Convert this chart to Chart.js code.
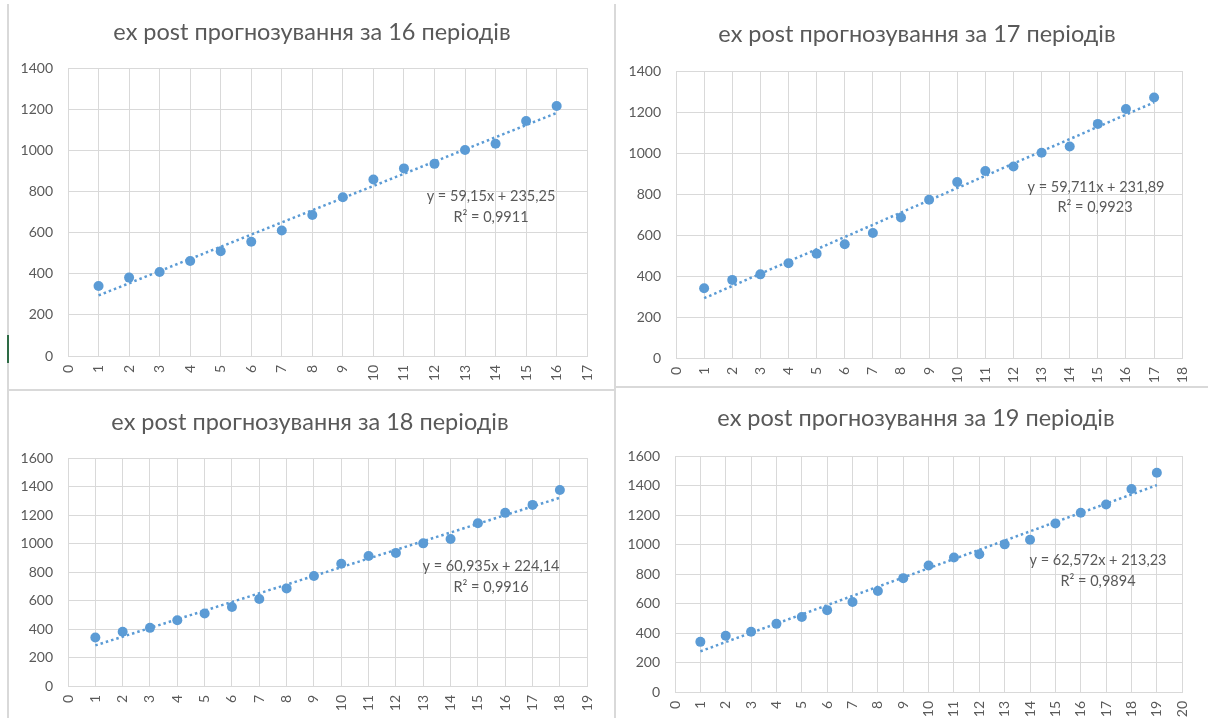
<!DOCTYPE html>
<html>
<head>
<meta charset="utf-8">
<script src="https://cdn.jsdelivr.net/npm/chart.js@4.4.1/dist/chart.umd.min.js"></script>
<style>
  html, body { margin: 0; padding: 0; background: #ffffff; }
  body { width: 1208px; height: 718px; position: relative; overflow: hidden; }
  .rule { position: absolute; background: #d9d9d9; }
  canvas { position: absolute; }
</style>
</head>
<body>
<div class="rule" style="left:7px;top:4px;width:2px;height:714px;"></div>
<div class="rule" style="left:614px;top:4px;width:2px;height:714px;"></div>
<div class="rule" style="left:7px;top:389px;width:607px;height:2px;"></div>
<div class="rule" style="left:614px;top:386px;width:594px;height:2px;"></div>
<div class="rule" style="left:7px;top:335px;width:2px;height:28px;background:#2e6b45;"></div>

<canvas id="c16" width="604" height="389" style="left:9px;top:0px;"></canvas>
<canvas id="c17" width="592" height="386" style="left:616px;top:0px;"></canvas>
<canvas id="c18" width="604" height="327" style="left:9px;top:391px;"></canvas>
<canvas id="c19" width="592" height="330" style="left:616px;top:388px;"></canvas>

<script>
// Observed values by period
const periods = [1, 2, 3, 4, 5, 6, 7, 8, 9, 10, 11, 12, 13, 14, 15, 16, 17, 18, 19];
const values  = [340, 381, 408, 462, 509, 555, 610, 685, 772, 858, 912, 934, 1001, 1032, 1142, 1215, 1271, 1376, 1486];

// One chart per forecast horizon, with its fitted linear trend
const horizons   = [16, 17, 18, 19];
const slopes     = [59.15, 59.711, 60.935, 62.572];
const intercepts = [235.25, 231.89, 224.14, 213.23];
const rSquared   = [0.9911, 0.9923, 0.9916, 0.9894];
const yMaxima    = [1400, 1400, 1600, 1600];
const yStep      = 200;

const BLUE = '#5b9bd5';
const GRID = '#d9d9d9';
const TEXT = '#595959';
const FONT = 'Lato, "Open Sans", sans-serif';

// Page geometry of each panel: canvas box, plot area, title and equation anchors
const layouts = [
  { id: 'c16', box: { left: 9,   top: 0,   width: 604, height: 389 }, plot: { left: 68,  top: 68,  right: 593,  bottom: 356 }, title: [312, 32],  eq: [491, 196],  r2: [491, 217] },
  { id: 'c17', box: { left: 616, top: 0,   width: 592, height: 386 }, plot: { left: 676, top: 71,  right: 1200, bottom: 358 }, title: [917, 34],  eq: [1096, 187], r2: [1095, 207] },
  { id: 'c18', box: { left: 9,   top: 391, width: 604, height: 327 }, plot: { left: 68,  top: 458, right: 593,  bottom: 686 }, title: [310, 422], eq: [491, 566],  r2: [491, 587] },
  { id: 'c19', box: { left: 616, top: 388, width: 592, height: 330 }, plot: { left: 675, top: 456, right: 1200, bottom: 692 }, title: [916, 418], eq: [1098, 560], r2: [1098, 581] }
];

const comma = v => String(v).replace('.', ',');

const annotate = {
  id: 'annotate',
  afterDraw(chart, args, opts) {
    const ctx = chart.ctx;
    ctx.save();
    ctx.fillStyle = TEXT;
    ctx.textAlign = 'center';
    ctx.textBaseline = 'middle';
    ctx.font = '23.5px ' + FONT;
    ctx.fillText(opts.title, opts.titlePos[0], opts.titlePos[1]);
    ctx.font = '14.5px ' + FONT;
    ctx.fillText(opts.equation, opts.eqPos[0], opts.eqPos[1]);
    ctx.fillText(opts.r2, opts.r2Pos[0], opts.r2Pos[1]);
    ctx.restore();
  }
};

horizons.forEach((n, i) => {
  const L = layouts[i];
  const ox = L.box.left, oy = L.box.top;
  const xs = periods.slice(0, n);
  const ys = values.slice(0, n);
  const points = xs.map((x, k) => ({ x: x, y: ys[k] }));
  const trend = [xs[0], xs[n - 1]].map(x => ({ x: x, y: slopes[i] * x + intercepts[i] }));

  new Chart(document.getElementById(L.id), {
    type: 'scatter',
    data: {
      datasets: [
        {
          type: 'line',
          data: trend,
          borderColor: BLUE,
          borderWidth: 2.5,
          borderDash: [2.5, 3],
          borderCapStyle: 'butt',
          pointRadius: 0,
          fill: false,
          order: 0
        },
        {
          data: points,
          backgroundColor: BLUE,
          borderColor: BLUE,
          pointRadius: 5,
          pointBorderWidth: 0,
          order: 1
        }
      ]
    },
    plugins: [annotate],
    options: {
      responsive: false,
      animation: false,
      devicePixelRatio: 1,
      layout: {
        padding: {
          left: 0,
          top: L.plot.top - oy,
          right: ox + L.box.width - L.plot.right,
          bottom: 0
        }
      },
      plugins: {
        legend: { display: false },
        tooltip: { enabled: false },
        title: { display: false },
        annotate: {
          title: 'ex post прогнозування за ' + n + ' періодів',
          titlePos: [L.title[0] - ox, L.title[1] - oy],
          equation: 'y = ' + comma(slopes[i]) + 'x + ' + comma(intercepts[i]),
          eqPos: [L.eq[0] - ox, L.eq[1] - oy],
          r2: 'R² = ' + comma(rSquared[i]),
          r2Pos: [L.r2[0] - ox, L.r2[1] - oy]
        }
      },
      scales: {
        x: {
          type: 'linear',
          min: 0,
          max: n + 1,
          afterFit: s => { s.height = oy + L.box.height - L.plot.bottom; },
          grid: { color: GRID, lineWidth: 1, drawTicks: false },
          border: { color: GRID, width: 1 },
          ticks: {
            stepSize: 1,
            autoSkip: false,
            minRotation: 90,
            maxRotation: 90,
            padding: 9,
            color: TEXT,
            font: { family: FONT, size: 14 },
            callback: v => String(v)
          }
        },
        y: {
          min: 0,
          max: yMaxima[i],
          afterFit: s => { s.width = L.plot.left - ox; },
          grid: { color: GRID, lineWidth: 1, drawTicks: false },
          border: { color: GRID, width: 1 },
          ticks: {
            stepSize: yStep,
            padding: 15,
            color: TEXT,
            font: { family: FONT, size: 14 },
            callback: v => String(v)
          }
        }
      }
    }
  });
});
</script>
</body>
</html>
